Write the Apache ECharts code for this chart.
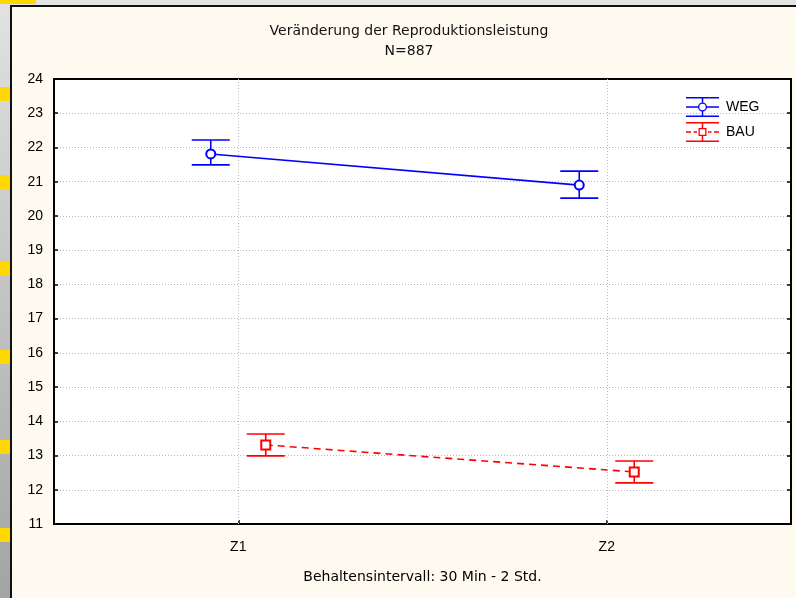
<!DOCTYPE html>
<html><head><meta charset="utf-8">
<script src="https://cdn.jsdelivr.net/npm/echarts@6/dist/echarts.min.js"></script>
<style>html,body{margin:0;padding:0;background:#fefaf0}#c{width:796px;height:598px}</style>
</head><body><div id="c"></div>
<script>
// ---- data ----
const categories = ['Z1', 'Z2'];
const seriesNames = ['WEG', 'BAU'];
const wegMean = [21.81, 20.90];
const wegLow  = [21.49, 20.52];
const wegHigh = [22.22, 21.31];
const bauMean = [13.31, 12.52];
const bauLow  = [12.99, 12.20];
const bauHigh = [13.63, 12.84];
const yMin = 11, yMax = 24, yStep = 1;
const titleText = 'Veränderung der Reproduktionsleistung\nN=887';
const xName = 'Behaltensintervall: 30 Min - 2 Std.';

// ---- styling ----
const FONT = '"Liberation Sans", Arial, sans-serif';
const WIDE = '"DejaVu Sans", "Liberation Sans", sans-serif';
const BLUE = '#0000ff', RED = '#ff0000';
const DODGE = 27.5 / 368.5;   // horizontal offset of each group, in category widths
const GRIDC = '#b8b8b8';

function pts(vals, off) { return vals.map((v, i) => [i + off, v]); }
function bars(lo, hi, off) { return lo.map((v, i) => [i + off, v, hi[i]]); }

function errRender(color) {
  return function (params, api) {
    const x = api.value(0);
    const pLo = api.coord([x, api.value(1)]);
    const pHi = api.coord([x, api.value(2)]);
    const hw = 19;
    const st = { stroke: color, lineWidth: 1.6, fill: null };
    return { type: 'group', children: [
      { type: 'line', shape: { x1: pLo[0], y1: pLo[1], x2: pHi[0], y2: pHi[1] }, style: st },
      { type: 'line', shape: { x1: pLo[0] - hw, y1: pLo[1], x2: pLo[0] + hw, y2: pLo[1] }, style: st },
      { type: 'line', shape: { x1: pHi[0] - hw, y1: pHi[1], x2: pHi[0] + hw, y2: pHi[1] }, style: st }
    ]};
  };
}

const capsPath = 'M0,0 H33 V1.5 H0 Z M0,18.5 H33 V20 H0 Z ';
const wegIcon = 'path://' + capsPath +
  'M15.75,1.5 H17.25 V5.7 H15.75 Z M15.75,14.3 H17.25 V18.5 H15.75 Z ' +
  'M0,9.25 H12.1 V10.75 H0 Z M20.9,9.25 H33 V10.75 H20.9 Z ' +
  'M12,10 A4.5,4.5 0 1,1 21,10 A4.5,4.5 0 1,1 12,10 Z ' +
  'M13.3,10 A3.2,3.2 0 1,0 19.7,10 A3.2,3.2 0 1,0 13.3,10 Z';
const bauIcon = 'path://' + capsPath +
  'M15.75,1.5 H17.25 V6 H15.75 Z M15.75,14 H17.25 V18.5 H15.75 Z ' +
  'M12.5,6 H20.5 V14 H12.5 Z M13.8,7.3 V12.7 H19.2 V7.3 Z ' +
  'M0,9.25 H5 V10.75 H0 Z M7.5,9.25 H11 V10.75 H7.5 Z ' +
  'M22,9.25 H25.5 V10.75 H22 Z M28,9.25 H33 V10.75 H28 Z';

// decorations of the window frame
const deco = [
  { type: 'rect', shape: { x: 0, y: 0, width: 796, height: 5 }, style: { fill: '#e4e4e4' }, silent: true },
  { type: 'rect', shape: { x: 0, y: 0, width: 10, height: 598 }, silent: true,
    style: { fill: new echarts.graphic.LinearGradient(0, 0, 0, 1, [
      { offset: 0, color: '#e2e2e2' }, { offset: 1, color: '#a4a4a4' }]) } },
  { type: 'rect', shape: { x: 0, y: 0, width: 36, height: 4 }, style: { fill: '#ffd800' }, silent: true }
];
[87, 175, 262, 350, 440, 528].forEach(y => deco.push(
  { type: 'rect', shape: { x: 0, y: y, width: 10, height: 14 }, style: { fill: '#ffd800' }, silent: true }));
deco.push({ type: 'rect', shape: { x: 10, y: 5, width: 2, height: 593 }, style: { fill: '#111' }, silent: true });
deco.push({ type: 'rect', shape: { x: 10, y: 5, width: 786, height: 2 }, style: { fill: '#111' }, silent: true });

const frameAxisLine = { show: true, onZero: false, lineStyle: { color: '#000', width: 2 } };
const tick = { show: true, inside: true, length: 4, lineStyle: { color: '#000', width: 1.5 } };

const chart = echarts.init(document.getElementById('c'), null, { renderer: 'canvas' });
chart.setOption({
  backgroundColor: '#fefaf0',
  animation: false,
  textStyle: { fontFamily: FONT },
  graphic: deco,
  title: {
    text: titleText, left: 409, top: 21, textAlign: 'center', padding: 0,
    textStyle: { fontFamily: WIDE, fontSize: 14, fontWeight: 'normal', color: '#111', lineHeight: 20 }
  },
  legend: {
    orient: 'vertical', left: 686, top: 97, itemGap: 5, itemWidth: 33, itemHeight: 20, padding: 0,
    textStyle: { fontFamily: FONT, fontSize: 14, color: '#000', padding: [0, 0, 0, 2] },
    itemStyle: { borderWidth: 0 },
    data: [
      { name: seriesNames[0], icon: wegIcon, itemStyle: { color: BLUE, borderWidth: 0 } },
      { name: seriesNames[1], icon: bauIcon, itemStyle: { color: RED, borderWidth: 0 } }
    ]
  },
  grid: {
    left: 54, right: 5, top: 79, bottom: 74, outerBoundsMode: 'none',
    show: true, backgroundColor: '#ffffff', borderColor: '#000', borderWidth: 2
  },
  xAxis: [
    {
      type: 'category', data: categories, boundaryGap: true,
      axisLine: frameAxisLine,
      axisTick: Object.assign({ alignWithLabel: true }, tick),
      axisLabel: { color: '#000', fontSize: 14, fontFamily: FONT, margin: 16 },
      splitLine: { show: false },
      name: xName, nameLocation: 'middle', nameGap: 46,
      nameTextStyle: { color: '#000', fontSize: 14, fontFamily: WIDE }
    },
    { type: 'value', min: -0.5, max: 1.5, show: false },
    {
      type: 'category', data: categories, position: 'top', boundaryGap: true,
      axisLine: frameAxisLine, axisTick: { show: false }, axisLabel: { show: false }, splitLine: { show: false }
    }
  ],
  yAxis: [
    {
      type: 'value', min: yMin, max: yMax, interval: yStep,
      axisLine: frameAxisLine, axisTick: tick,
      axisLabel: { color: '#000', fontSize: 14, fontFamily: FONT, margin: 11 },
      splitLine: { show: true, lineStyle: { color: GRIDC, type: [1, 2], width: 1 } }
    },
    {
      type: 'value', min: yMin, max: yMax, interval: yStep, position: 'right',
      axisLine: frameAxisLine, axisTick: tick,
      axisLabel: { show: false }, splitLine: { show: false }
    }
  ],
  series: [
    {
      type: 'custom', xAxisIndex: 1, yAxisIndex: 0, z: 2,
      renderItem: errRender(BLUE), data: bars(wegLow, wegHigh, -DODGE), silent: true,
      markLine: {
        silent: true, symbol: ['none', 'none'], label: { show: false },
        lineStyle: { color: GRIDC, type: [1, 2], width: 1 },
        data: categories.map((c, i) => ({ xAxis: i }))
      }
    },
    {
      type: 'custom', xAxisIndex: 1, yAxisIndex: 0, z: 2,
      renderItem: errRender(RED), data: bars(bauLow, bauHigh, DODGE), silent: true
    },
    {
      name: seriesNames[0], type: 'line', xAxisIndex: 1, yAxisIndex: 0, z: 3,
      data: pts(wegMean, -DODGE), symbol: 'emptyCircle', symbolSize: 9,
      itemStyle: { color: BLUE, borderWidth: 1.3 },
      lineStyle: { color: BLUE, width: 1.6 }
    },
    {
      name: seriesNames[1], type: 'line', xAxisIndex: 1, yAxisIndex: 0, z: 3,
      data: pts(bauMean, DODGE), symbol: 'emptyRect', symbolSize: 9,
      itemStyle: { color: RED, borderWidth: 1.3 },
      lineStyle: { color: RED, width: 1.6, type: [7, 5] }
    }
  ]
});
</script>
</body></html>
